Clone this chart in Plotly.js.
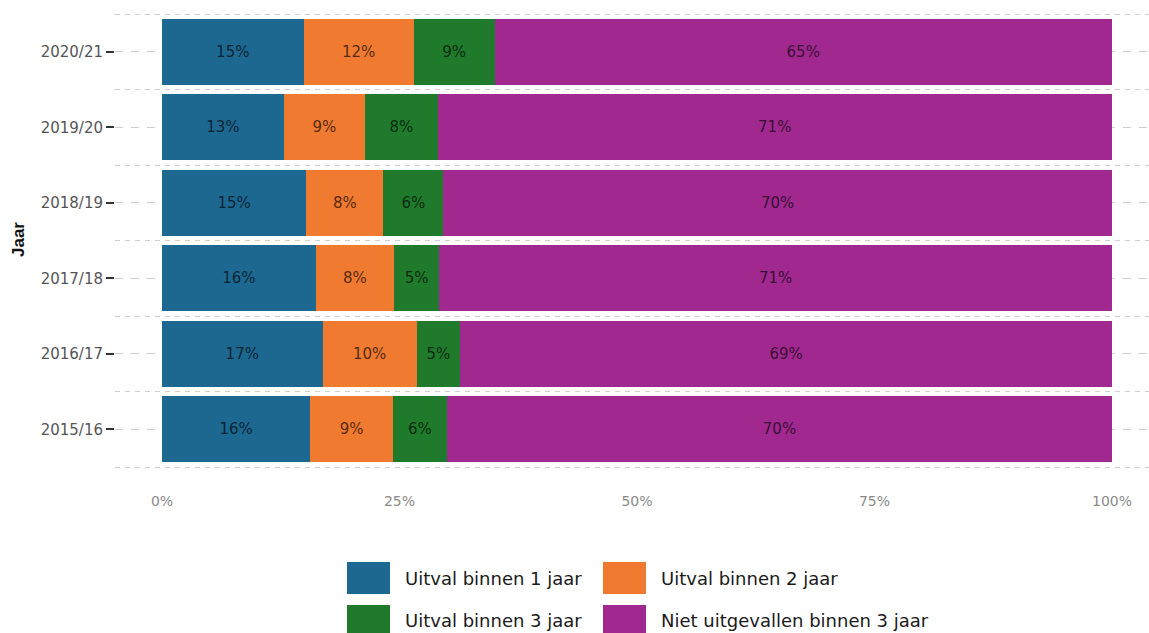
<!DOCTYPE html>
<html>
<head>
<meta charset="utf-8">
<script src="https://cdn.plot.ly/plotly-3.0.1.min.js"></script>
<style>
html, body { margin: 0; padding: 0; background: #fff; }
#chart { width: 1149px; height: 633px; }
</style>
</head>
<body>
<div id="chart"></div>
<script>
// ---- data ----
const years = ['2015/16', '2016/17', '2017/18', '2018/19', '2019/20', '2020/21'];
const seriesNames = ['Uitval binnen 1 jaar', 'Uitval binnen 2 jaar', 'Uitval binnen 3 jaar', 'Niet uitgevallen binnen 3 jaar'];
const uitval1 = [15.6, 16.9, 16.2, 15.2, 12.8, 14.9];
const uitval2 = [8.7, 9.9, 8.2, 8.1, 8.6, 11.6];
const uitval3 = [5.7, 4.6, 4.8, 6.3, 7.6, 8.5];
const nietUitgevallen = [70.0, 68.6, 70.8, 70.4, 71.0, 65.0];
const xTickValues = [0, 25, 50, 75, 100];
const xTickLabels = ['0%', '25%', '50%', '75%', '100%'];
const colors = ['#1c6891', '#ef7a30', '#1f7a2b', '#a1288f'];

// ---- layout helpers ----
const W = 1149, H = 633;
const M = {l: 115, r: 0, t: 12, b: 164};
const pw = W - M.l - M.r, ph = H - M.t - M.b;
const px = x => (x - M.l) / pw;
const py = y => (H - M.b - y) / ph;
const ext = 0.0265;

const yPos = years.map((_, i) => i);
const allSeries = [uitval1, uitval2, uitval3, nietUitgevallen];

const traces = allSeries.map((vals, k) => ({
  type: 'bar',
  orientation: 'h',
  name: seriesNames[k],
  x: vals,
  y: yPos,
  width: 0.88,
  marker: {color: colors[k], line: {width: 0}},
  text: vals.map(v => Math.round(v) + '%'),
  textposition: 'inside',
  insidetextanchor: 'middle',
  constraintext: 'none',
  textangle: 0,
  textfont: {family: 'DejaVu Sans, sans-serif', size: 15, color: 'rgba(0,0,0,0.68)'},
  hoverinfo: 'skip',
  showlegend: false
}));

// custom legend (large key boxes like the reference)
const legendPos = [
  {bx: 347, by: 562, tx: 403, ty: 578},
  {bx: 603, by: 562, tx: 659, ty: 578},
  {bx: 347, by: 605, tx: 403, ty: 621},
  {bx: 603, by: 605, tx: 659, ty: 621}
];
const shapes = [];
const annotations = [];
seriesNames.forEach((name, k) => {
  const p = legendPos[k];
  shapes.push({
    type: 'rect', xref: 'paper', yref: 'paper',
    x0: px(p.bx), x1: px(p.bx + 43), y0: py(p.by), y1: py(p.by + 32),
    fillcolor: colors[k], line: {width: 0}
  });
  annotations.push({
    xref: 'paper', yref: 'paper', x: px(p.tx), y: py(p.ty),
    xanchor: 'left', yanchor: 'middle', showarrow: false,
    text: name,
    font: {family: 'DejaVu Sans, sans-serif', size: 18, color: '#1a1a1a'}
  });
});
annotations.push({
  xref: 'paper', yref: 'paper', x: px(18), y: py(240),
  xanchor: 'center', yanchor: 'middle', showarrow: false,
  text: '<b>Jaar</b>', textangle: -90,
  font: {family: 'Liberation Sans Narrow, Arial Narrow, Liberation Sans, sans-serif', size: 17, color: '#111'}
});

const layout = {
  width: W, height: H,
  margin: M,
  paper_bgcolor: '#fff',
  plot_bgcolor: '#fff',
  barmode: 'stack',
  showlegend: false,
  xaxis: {
    range: [(M.l - 162) / 9.5, (M.l + pw - 162) / 9.5],
    tickvals: xTickValues,
    ticktext: xTickLabels,
    ticks: '',
    ticklabelstandoff: 22,
    showgrid: false,
    zeroline: false,
    showline: false,
    tickfont: {family: 'DejaVu Sans, sans-serif', size: 14, color: '#8a8a8a'},
    fixedrange: true
  },
  yaxis: {
    range: [-0.5 - ext, 5.5 + ext],
    tickvals: yPos,
    ticktext: years,
    ticks: 'outside',
    ticklen: 8,
    tickwidth: 2,
    tickcolor: '#333',
    showgrid: true,
    gridcolor: '#cfcfcf',
    gridwidth: 1,
    griddash: '8px,8px',
    minor: {
      tick0: 0.5, dtick: 1,
      showgrid: true, gridcolor: '#cfcfcf', gridwidth: 1, griddash: '5px,5px',
      ticks: ''
    },
    zeroline: false,
    showline: false,
    tickfont: {family: 'DejaVu Sans, sans-serif', size: 15, color: '#555'},
    fixedrange: true
  },
  shapes: shapes,
  annotations: annotations
};

Plotly.newPlot('chart', traces, layout, {displayModeBar: false, staticPlot: true});
</script>
</body>
</html>
